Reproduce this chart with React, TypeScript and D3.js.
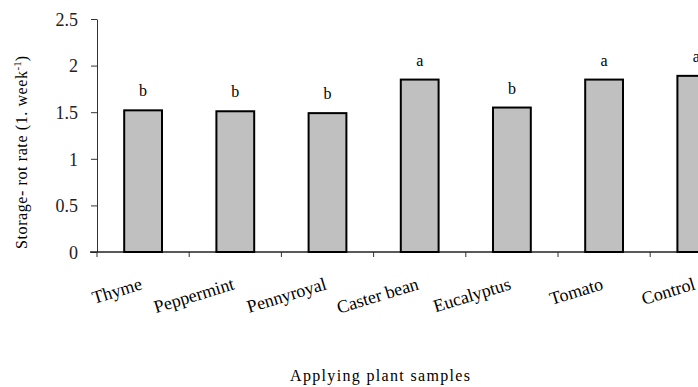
import React, { useEffect, useRef } from 'react'
import * as d3 from 'd3'

const categories = ['Thyme', 'Peppermint', 'Pennyroyal', 'Caster bean', 'Eucalyptus', 'Tomato', 'Control']
const rotRates = [1.52, 1.51, 1.49, 1.85, 1.55, 1.85, 1.89]
const groupLetters = ['b', 'b', 'b', 'a', 'b', 'a', 'a']
const yTicks = [0, 0.5, 1, 1.5, 2, 2.5]

const App = () => {
  const ref = useRef<SVGSVGElement | null>(null)

  useEffect(() => {
    const w = 698
    const h = 387
    const svg = d3.select(ref.current)
    svg.selectAll('*').remove()
    svg.attr('width', w).attr('height', h)

    const font = '"Liberation Serif", "Times New Roman", serif'

    const xScale = d3.scaleBand().domain(categories).range([97, 97 + 7 * 92.2]).padding(0)
    const yScale = d3.scaleLinear().domain([0, 2.5]).range([252, 19])
    const barW = xScale.bandwidth() * 0.41

    // y axis
    const yAxis = svg.append('g').attr('transform', 'translate(97,0)')
      .call(d3.axisLeft(yScale).tickValues(yTicks).tickFormat(d => String(d)).tickSize(6).tickSizeOuter(0))
    yAxis.select('.domain').attr('stroke', '#333')
    yAxis.selectAll('line').attr('stroke', '#333')
    yAxis.selectAll('text')
      .attr('font-family', font)
      .attr('font-size', 18)
      .attr('fill', '#222')
      .attr('x', -19)
      .attr('dy', '0.35em')

    // x axis
    svg.append('line').attr('x1', 90).attr('x2', w).attr('y1', 252).attr('y2', 252).attr('stroke', '#222').attr('stroke-width', 1.5)
    const tickXs = categories.map(c => xScale(c) as number)
    svg.selectAll('line.xtick').data(tickXs).enter().append('line')
      .attr('class', 'xtick')
      .attr('x1', d => d).attr('x2', d => d).attr('y1', 252).attr('y2', 257)
      .attr('stroke', '#333')

    // bars
    svg.selectAll('rect.bar').data(rotRates).enter().append('rect')
      .attr('class', 'bar')
      .attr('x', (d, i) => (xScale(categories[i]) as number) + xScale.bandwidth() / 2 - barW / 2)
      .attr('y', d => yScale(d))
      .attr('width', barW)
      .attr('height', d => yScale(0) - yScale(d))
      .attr('fill', '#c0c0c0')
      .attr('stroke', '#000')
      .attr('stroke-width', 2)

    // group letters
    svg.selectAll('text.grp').data(rotRates).enter().append('text')
      .attr('class', 'grp')
      .attr('x', (d, i) => (xScale(categories[i]) as number) + xScale.bandwidth() / 2)
      .attr('y', d => yScale(d) - 14)
      .attr('text-anchor', 'middle')
      .attr('font-family', font)
      .attr('font-size', 16)
      .attr('fill', '#000')
      .text((d, i) => groupLetters[i])

    // category labels
    svg.selectAll('text.cat').data(categories).enter().append('text')
      .attr('class', 'cat')
      .attr('transform', d => `translate(${(xScale(d) as number) + xScale.bandwidth() / 2},289) rotate(-17)`)
      .attr('text-anchor', 'end')
      .attr('font-family', font)
      .attr('font-size', 18)
      .attr('fill', '#000')
      .text(d => d)

    // axis titles
    svg.append('text')
      .attr('x', 290).attr('y', 381)
      .attr('textLength', 180)
      .attr('lengthAdjust', 'spacing')
      .attr('font-family', font)
      .attr('font-size', 16)
      .attr('fill', '#000')
      .text('Applying plant samples')

    const yt = svg.append('text')
      .attr('transform', 'translate(27,249) rotate(-90)')
      .attr('font-family', font)
      .attr('font-size', 16)
      .attr('fill', '#000')
    yt.append('tspan').attr('textLength', 178).attr('lengthAdjust', 'spacing').text('Storage- rot rate (1. week')
    yt.append('tspan').attr('font-size', 11).attr('dy', -6).text('-1')
    yt.append('tspan').attr('dy', 6).text(')')
  }, [])

  return <svg ref={ref} style={{ position: 'absolute', left: 0, top: 0, background: '#fff' }} />
}

export default App
